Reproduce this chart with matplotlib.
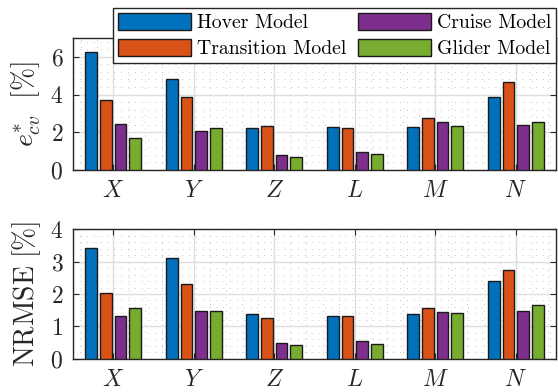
import matplotlib
matplotlib.use("Agg")
import matplotlib.pyplot as plt
import numpy as np
from matplotlib.ticker import MultipleLocator

plt.rcParams["font.family"] = "serif"
plt.rcParams["font.serif"] = ["cmr10"]
plt.rcParams["mathtext.fontset"] = "cm"
plt.rcParams["axes.formatter.use_mathtext"] = True

AXES_LABELS = [r"$X$", r"$Y$", r"$Z$", r"$L$", r"$M$", r"$N$"]
MODELS = ["Hover Model", "Transition Model", "Cruise Model", "Glider Model"]
COLORS = ["#0072BD", "#D95319", "#7E2F8E", "#77AC30"]

# cross-validation error e*_cv [%], one list per model
ecv_hover = [6.27, 4.81, 2.25, 2.28, 2.30, 3.89]
ecv_transition = [3.73, 3.89, 2.34, 2.23, 2.76, 4.64]
ecv_cruise = [2.42, 2.05, 0.81, 0.94, 2.53, 2.39]
ecv_glider = [1.72, 2.25, 0.67, 0.83, 2.35, 2.55]

# NRMSE [%], one list per model
nrmse_hover = [3.43, 3.10, 1.38, 1.31, 1.38, 2.41]
nrmse_transition = [2.04, 2.30, 1.27, 1.33, 1.58, 2.74]
nrmse_cruise = [1.31, 1.49, 0.48, 0.56, 1.46, 1.47]
nrmse_glider = [1.56, 1.48, 0.44, 0.45, 1.42, 1.67]


def draw_bars(ax, series, ymax, ystep, yminor, ylabel):
    x = np.arange(1, len(AXES_LABELS) + 1)
    group = 4 / 5.5
    step = group / 4
    width = 0.8 * step
    bars = []
    for k, vals in enumerate(series):
        off = (k - 1.5) * step
        b = ax.bar(x + off, vals, width, color=COLORS[k], edgecolor="#1a1a1a",
                   linewidth=1.0, zorder=3, label=MODELS[k])
        bars.append(b)
    ax.set_xlim(0.5, 6.5)
    ax.set_ylim(0, ymax)
    ax.set_xticks(x)
    ax.set_xticklabels(AXES_LABELS)
    ax.xaxis.set_minor_locator(MultipleLocator(0.2))
    ax.yaxis.set_major_locator(MultipleLocator(ystep))
    ax.yaxis.set_minor_locator(MultipleLocator(yminor))
    ax.set_axisbelow(True)
    ax.grid(which="major", color="#dedede", linewidth=1.0, zorder=0)
    ax.grid(which="minor", color="#c4c4c4", linestyle=(0, (1, 6)),
            linewidth=0.7, zorder=0)
    ax.tick_params(which="major", direction="in", length=4, width=0.8,
                   top=True, right=True, labelsize=17, colors="#262626")
    ax.tick_params(which="minor", length=0)
    ax.tick_params(axis="x", pad=7)
    ax.tick_params(axis="y", pad=7)
    for s in ax.spines.values():
        s.set_color("#262626")
        s.set_linewidth(1.0)
    ax.set_ylabel(ylabel, fontsize=20, color="#262626", labelpad=5)
    return bars


fig = plt.figure(figsize=(5.58, 3.92), dpi=100)
ax1 = fig.add_axes([0.1308, 0.5663, 0.8656, 0.3368])
ax2 = fig.add_axes([0.1308, 0.0842, 0.8656, 0.3316])

bars = draw_bars(ax1, [ecv_hover, ecv_transition, ecv_cruise, ecv_glider],
                 7, 2, 0.4, r"$e^{*}_{cv}\ \ [\%]$")
draw_bars(ax2, [nrmse_hover, nrmse_transition, nrmse_cruise, nrmse_glider],
          4, 1, 0.2, r"$\mathrm{NRMSE}\ [\%]$")

leg = fig.legend(bars, MODELS, ncol=2, loc="upper right",
                 bbox_to_anchor=(556 / 558, 1 - 8 / 392), borderaxespad=0,
                 fontsize=14.2, handlelength=3.7, handleheight=0.95,
                 handletextpad=0.3, columnspacing=0.6, labelspacing=0.32,
                 borderpad=0.25, fancybox=False, framealpha=1)
leg.get_frame().set_edgecolor("#262626")
leg.get_frame().set_linewidth(1.0)

fig.savefig("out.png", dpi=100)
